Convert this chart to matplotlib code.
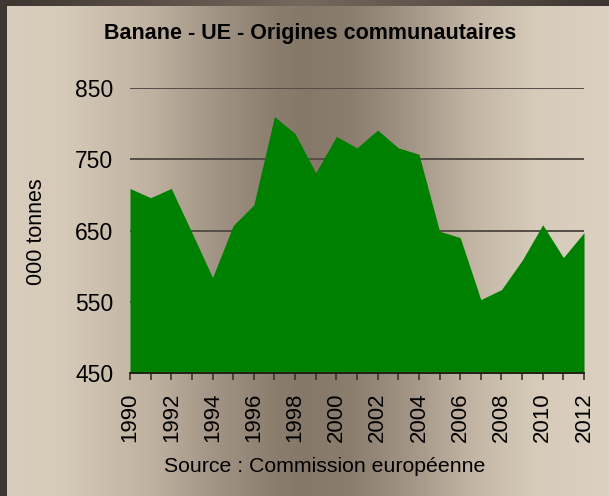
import numpy as np
import matplotlib
matplotlib.use("Agg")
import matplotlib.pyplot as plt
from matplotlib.colors import LinearSegmentedColormap

plt.rcParams['font.family'] = ['Liberation Sans', 'DejaVu Sans']

# EU banana supply of community origin, thousand tonnes
years = list(range(1990, 2013))
volumes = [709, 696, 709, 647, 584, 657, 686, 810, 786, 731, 782, 766,
           791, 766, 757, 649, 640, 553, 567, 608, 658, 612, 647]
y_ticks = [450, 550, 650, 750, 850]
x_tick_labels = [str(y) for y in range(1990, 2013, 2)]

title = "Banane - UE - Origines communautaires"
y_label = "000 tonnes"
source = "Source : Commission européenne"

W, H = 609, 496
fig = plt.figure(figsize=(W / 100, H / 100), dpi=100)

# Horizontal brown/beige gradient background with a dark frame
bg = fig.add_axes([0, 0, 1, 1], zorder=-10)
bg.set_axis_off()
stops = [(0.00, "#d9cdbd"), (0.10, "#d6cab9"), (0.25, "#bfb1a0"),
         (0.35, "#a39585"), (0.45, "#8b7e6f"), (0.50, "#857868"),
         (0.58, "#8b7e6f"), (0.68, "#a59787"), (0.78, "#c3b6a5"),
         (0.88, "#d6cab9"), (1.00, "#dcd1c1")]
cmap = LinearSegmentedColormap.from_list("bg", stops)
grad = np.tile(np.linspace(0, 1, W), (H, 1))
bg.imshow(grad, cmap=cmap, aspect="auto", extent=[0, W, H, 0])
top_stops = [(0.0, "#3d3531"), (0.5, "#74695d"), (1.0, "#3d3531")]
top_cmap = LinearSegmentedColormap.from_list("top", top_stops)
bg.imshow(np.tile(np.linspace(0, 1, W), (6, 1)), cmap=top_cmap, aspect="auto",
          extent=[0, W, 6, 0])
bg.fill_between([0, 7], 0, H, color="#3f3733", linewidth=0)
bg.set_xlim(0, W)
bg.set_ylim(H, 0)

ax = fig.add_axes([130 / W, (H - 373) / H, 454 / W, 285 / H])
ax.set_facecolor("none")
ax.fill_between(years, volumes, 450, color="#008000", linewidth=0, zorder=2)
ax.set_xlim(1990, 2012)
ax.set_ylim(450, 850)
ax.set_yticks(y_ticks)
ax.yaxis.grid(True, color="#554d47", linewidth=1.4, zorder=1)
ax.set_axisbelow(True)
ax.set_xticks(years)
ax.set_xticklabels([str(y) if (y - 1990) % 2 == 0 else "" for y in years],
                   rotation=90, fontsize=16)
ax.tick_params(axis="x", direction="out", length=5, width=1.2,
               color="#3a3430", pad=9)
ax.tick_params(axis="y", length=0, pad=12, labelsize=16.5)
for side in ("left", "right", "top"):
    ax.spines[side].set_visible(False)
ax.spines["bottom"].set_color("#1e1a18")
ax.spines["bottom"].set_linewidth(1.3)
ax.spines["bottom"].set_zorder(3)

fig.text(310 / W, 1 - 33 / H, title, ha="center", va="center",
         fontsize=15.5, fontweight="bold")
fig.text(37 / W, 1 - 232 / H, y_label, ha="center", va="center",
         rotation=90, fontsize=15.5)
fig.text(325 / W, 1 - 467 / H, source, ha="center", va="center",
         fontsize=15.3)

fig.savefig("out.png", dpi=100)
